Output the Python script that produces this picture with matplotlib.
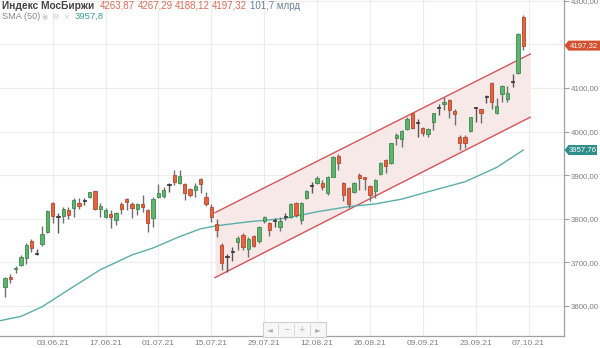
import matplotlib
matplotlib.use("Agg")
import matplotlib.pyplot as plt
import matplotlib.transforms as mtransforms
from matplotlib.patches import Polygon, Rectangle
import pandas as pd

plt.rcParams['font.family'] = ['Liberation Sans', 'DejaVu Sans']

# ---------------- data ----------------
start_date = '2021-05-21'
opens = [3643, 3667, 3684, 3694, 3709, 3750, 3722, 3742, 3770, 3837,
         3805, 3806, 3820, 3825, 3837, 3840, 3851, 3863, 3822, 3805,
         3811, 3797, 3835, 3845, 3835, 3822, 3835, 3820, 3801, 3849,
         3852, 3878, 3900, 3883, 3880, 3868, 3866, 3891, 3849, 3828,
         3789, 3740, 3712, 3723, 3747, 3763, 3730, 3760, 3750, 3796,
         3790, 3797, 3780, 3805, 3803, 3837, 3797, 3848, 3876, 3883,
         3883, 3860, 3896, 3944, 3883, 3870, 3862, 3900, 3895, 3875,
         3864, 3903, 3935, 3927, 3985, 3982, 4005, 4042, 4019, 4008,
         3995, 4022, 4054, 4064, 4072, 4047, 3988, 3987, 4002, 4054,
         4051, 4079, 4112, 4042, 4086, 4074, 4113, 4135, 4263.87]
highs = [3667, 3673, 3692, 3717, 3744, 3753, 3730, 3783, 3820, 3839,
         3813, 3826, 3826, 3847, 3847, 3848, 3862, 3864, 3837, 3825,
         3820, 3816, 3839, 3847, 3839, 3837, 3854, 3822, 3849, 3880,
         3874, 3883, 3913, 3913, 3881, 3870, 3881, 3893, 3862, 3833,
         3799, 3744, 3719, 3736, 3760, 3767, 3759, 3763, 3783, 3806,
         3793, 3801, 3803, 3814, 3837, 3839, 3839, 3866, 3885, 3898,
         3889, 3898, 3944, 3949, 3885, 3872, 3885, 3904, 3896, 3877,
         3891, 3931, 3938, 3975, 3996, 4004, 4034, 4043, 4030, 4010,
         4008, 4043, 4063, 4080, 4074, 4053, 3992, 3992, 4034, 4057,
         4053, 4084, 4114, 4076, 4107, 4105, 4132, 4227, 4267.29]
lows = [3621, 3652, 3675, 3692, 3696, 3724, 3717, 3738, 3767, 3790,
        3768, 3791, 3799, 3805, 3822, 3832, 3847, 3820, 3805, 3802,
        3778, 3786, 3811, 3820, 3801, 3809, 3816, 3770, 3782, 3847,
        3847, 3862, 3877, 3880, 3843, 3849, 3851, 3858, 3829, 3793,
        3758, 3683, 3679, 3702, 3728, 3728, 3712, 3735, 3745, 3791,
        3760, 3782, 3773, 3797, 3801, 3803, 3788, 3845, 3858, 3880,
        3865, 3855, 3895, 3913, 3841, 3824, 3858, 3866, 3866, 3841,
        3847, 3900, 3906, 3926, 3969, 3965, 4004, 4005, 3987, 3990,
        3988, 4004, 4038, 4050, 4031, 4015, 3958, 3962, 4000, 4023,
        4020, 4065, 4053, 4040, 4068, 4068, 4102, 4132, 4188.12]
closes = [3663, 3662, 3688, 3712, 3739, 3732, 3719, 3765, 3818, 3807,
          3807, 3822, 3809, 3843, 3830, 3842, 3861, 3822, 3830, 3820,
          3805, 3814, 3822, 3839, 3824, 3833, 3828, 3791, 3845, 3860,
          3866, 3880, 3885, 3898, 3860, 3854, 3875, 3880, 3834, 3805,
          3774, 3699, 3714, 3725, 3757, 3736, 3753, 3738, 3782, 3803,
          3774, 3795, 3796, 3807, 3834, 3809, 3837, 3864, 3878, 3893,
          3872, 3896, 3942, 3929, 3854, 3834, 3883, 3893, 3891, 3854,
          3889, 3929, 3921, 3973, 3992, 4002, 4030, 4008, 4021, 3996,
          4005, 4042, 4057, 4068, 4050, 4040, 3973, 3975, 4033, 4056,
          4042, 4081, 4068, 4059, 4105, 4088, 4116, 4225, 4197.32]

sma_idx = [-1, 3, 7, 12, 18, 24, 28, 33, 37, 40, 46, 53, 59, 65, 70, 75, 80, 87, 93, 98]
sma_val = [3566, 3576, 3598, 3637, 3683, 3717, 3733, 3759, 3777, 3784,
           3793, 3801, 3816, 3828, 3834, 3845, 3862, 3885, 3918, 3957.76]

chan_x = [39.7, 99.3]
chan_upper = [3814, 4178]
chan_lower = [3665, 4033]

y_ticks = [3600, 3700, 3800, 3900, 4000, 4100, 4200, 4300]
y_hidden = [4200]  # covered by the last-price tag in the reference
legend_name = 'Индекс МосБиржи'
legend_vals = ['4263,87', '4267,29', '4188,12', '4197,32']
legend_volume = '101,7 млрд'
sma_label = 'SMA (50)'
sma_last_label = '3957,8'
last_close_tag = 4197.32
last_sma_tag = 3957.76

# ---------------- figure ----------------
W, H = 600, 348
fig = plt.figure(figsize=(W / 100, H / 100), dpi=100)
fig.patch.set_facecolor('white')
ax = fig.add_axes([0, 12 / H, 564 / W, 336 / H])
ax.set_facecolor('white')

dates = pd.bdate_range(start_date, periods=len(closes) + 1)
n = len(closes)

ax.set_xlim(-0.95, 105.7)
ax.set_ylim(3531, 4302)

# grid
for yv in y_ticks:
    ax.axhline(yv, color='#ececec', lw=0.8, zorder=0)
xt = list(range(9, n + 1, 10))
for xv in xt:
    ax.axvline(xv, color='#ececec', lw=0.8, zorder=0)

# channel
ax.fill_between(chan_x, chan_lower, chan_upper, color='#f8e9e9', zorder=1, lw=0)
ax.plot(chan_x, chan_upper, color='#d6545a', lw=1.0, zorder=2)
ax.plot(chan_x, chan_lower, color='#d6545a', lw=1.0, zorder=2)

# SMA
ax.plot(sma_idx, sma_val, color='#5aaeaa', lw=1.0, zorder=3)

# candles
bw = 0.62
for i in range(n):
    o, h, l, c = opens[i], highs[i], lows[i], closes[i]
    up = c >= o
    if abs(c - o) < 4:
        fc, ec, wc = '#3c3c3c', '#3c3c3c', '#555555'
    elif up:
        fc, ec, wc = '#5db46d', '#3b8a4d', '#6f6f6f'
    else:
        fc, ec, wc = '#e4643f', '#b9452c', '#6f6f6f'
    ax.vlines(i, l, h, color=wc, lw=1.0, zorder=4)
    bot = min(o, c)
    hgt = max(abs(c - o), 2.5)
    ax.bar(i, hgt, bottom=bot, width=bw, color=fc, edgecolor=ec, lw=0.6, zorder=5)

# axes styling
for s in ['left', 'top']:
    ax.spines[s].set_visible(False)
for s in ['bottom', 'right']:
    ax.spines[s].set_color('#a0a0a0')
    ax.spines[s].set_linewidth(0.9)

ax.yaxis.tick_right()
ax.set_yticks(y_ticks)
ax.set_yticklabels(['' if v in y_hidden else f"{v:.2f}".replace('.', ',') for v in y_ticks])
ax.tick_params(axis='y', colors='#a0a0a0', labelcolor='#808080', labelsize=5.7,
               length=3.5, width=0.8, pad=1.5)
ax.set_xticks(xt)
ax.set_xticklabels([dates[i].strftime('%d.%m.%y') for i in xt])
ax.tick_params(axis='x', colors='#a0a0a0', labelcolor='#808080', labelsize=6.0,
               length=0, pad=3)

# price tags
tr = mtransforms.blended_transform_factory(ax.transAxes, ax.transData)
px = 1 / 564.0
upp = (4302 - 3531) / 336.0  # price per pixel


def tag(price, text, color, right_px):
    hh = 5.0 * upp
    pts = [(564.5 * px, price), (568.5 * px, price + hh), (right_px * px, price + hh),
           (right_px * px, price - hh), (568.5 * px, price - hh)]
    ax.add_patch(Polygon(pts, closed=True, transform=tr, facecolor=color,
                         edgecolor='none', clip_on=False, zorder=10))
    ax.text((568.5 + right_px) / 2 * px, price, text, transform=tr, color='white',
            fontsize=5.6, ha='center', va='center', clip_on=False, zorder=11)


tag(last_close_tag, f"{last_close_tag:.2f}".replace('.', ','), '#d5502f', 600)
tag(last_sma_tag, f"{last_sma_tag:.2f}".replace('.', ','), '#2e8f8a', 597)

# legend texts (figure pixel coords)
def fx(x):
    return x / W


def fy(y):
    return 1 - y / H


fig.text(fx(2), fy(6), legend_name, fontsize=7.3, fontweight='bold', color='#444444',
         ha='left', va='center')
vx = [100, 138, 175, 212]
for x0, t in zip(vx, legend_vals):
    fig.text(fx(x0), fy(6), t, fontsize=7.0, color='#e06a55', ha='left', va='center')
fig.text(fx(250), fy(6), legend_volume, fontsize=7.0, color='#6b7f99', ha='left', va='center')
fig.text(fx(2), fy(16.5), sma_label, fontsize=6.6, color='#888888', ha='left', va='center')
fig.text(fx(42), fy(16.5), '◉  ⚙  ×', fontsize=5.2, color='#c8c8c8', ha='left', va='center',
         family=['DejaVu Sans'])
fig.text(fx(75), fy(16.5), sma_last_label, fontsize=6.8, color='#3aa19c', ha='left', va='center')

# navigation buttons
bx0, by0, bwid, bh = 262.5, 322, 63, 14.5
fig.patches.append(Rectangle((fx(bx0), fy(by0 + bh)), bwid / W, bh / H,
                             transform=fig.transFigure, facecolor='#f7f7f7',
                             edgecolor='#d0d0d0', lw=0.8, zorder=20))
for k, sym in enumerate(['◄', '−', '+', '►']):
    cx = bx0 + bwid / 8 * (2 * k + 1)
    fig.text(fx(cx), fy(by0 + bh / 2), sym, fontsize=5.5, color='#b0b0b0',
             ha='center', va='center', family=['DejaVu Sans'], zorder=21)
    if k > 0:
        xl = bx0 + bwid / 4 * k
        fig.lines.append(plt.Line2D([fx(xl), fx(xl)], [fy(by0 + 2), fy(by0 + bh - 2)],
                                    transform=fig.transFigure, color='#d8d8d8', lw=0.7,
                                    zorder=21))

fig.savefig('out.png', dpi=100, facecolor='white')
